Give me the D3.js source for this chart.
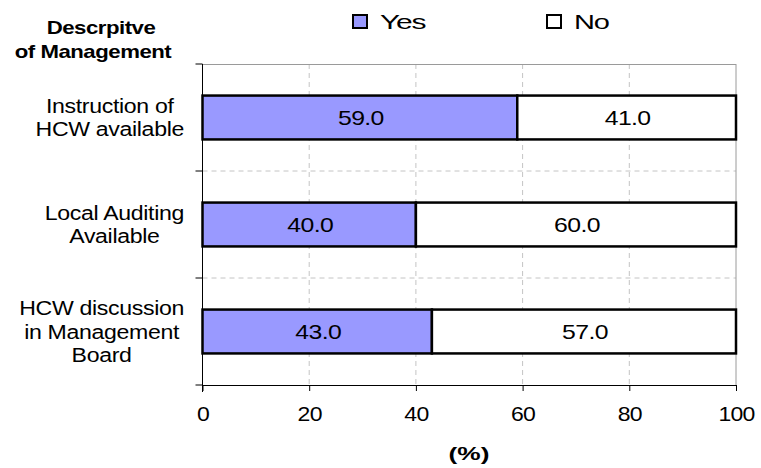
<!DOCTYPE html>
<html><head><meta charset="utf-8">
<script src="https://cdn.jsdelivr.net/npm/d3@7"></script>
<style>body{margin:0;background:#fff}svg{display:block}text{font-family:"Liberation Sans",Arial,sans-serif;fill:#000}</style>
</head><body><svg id="c" width="761" height="468"></svg>
<script>
const categories = [
  ["Instruction of","HCW available"],
  ["Local Auditing","Available"],
  ["HCW discussion","in Management","Board"]
];
const yesValues = [59.0, 40.0, 43.0];
const noValues = [41.0, 60.0, 57.0];
const seriesNames = ["Yes","No"];
const seriesColors = ["#9999FF","#FFFFFF"];
const xTicks = [0,20,40,60,80,100];
const titleLines = ["Descrpitve","of Management"];
const xTitle = "(%)";

const svg = d3.select("#c");
const L=202.5, R=736, T=64, B=385;
const x = d3.scaleLinear().domain([0,100]).range([L,R]);
const y = d3.scaleBand().domain(d3.range(categories.length)).range([T,B]).paddingInner(0).paddingOuter(0);
const barH = y.bandwidth()*0.41;

// grid
const g = svg.append("g");
g.selectAll("line.vg").data(xTicks.filter(t=>t>0&&t<100)).join("line")
  .attr("x1",d=>x(d)).attr("x2",d=>x(d)).attr("y1",T).attr("y2",B)
  .attr("stroke","#c4c4c4").attr("stroke-dasharray","5,4");
g.selectAll("line.hg").data(d3.range(1,categories.length)).join("line")
  .attr("x1",L).attr("x2",R).attr("y1",d=>y(d)).attr("y2",d=>y(d))
  .attr("stroke","#c4c4c4").attr("stroke-dasharray","5,4");
g.append("line").attr("x1",L).attr("x2",R).attr("y1",T+0.5).attr("y2",T+0.5).attr("stroke","#9a9a9a");
g.append("line").attr("x1",R).attr("x2",R).attr("y1",T).attr("y2",B).attr("stroke","#9a9a9a");

// bars
const stacks = categories.map((c,i)=>[
  {s:0,x0:0,x1:yesValues[i],v:yesValues[i],i},
  {s:1,x0:yesValues[i],x1:yesValues[i]+noValues[i],v:noValues[i],i}
]).flat();
svg.append("g").selectAll("rect").data(stacks).join("rect")
  .attr("x",d=>x(d.x0)).attr("width",d=>x(d.x1)-x(d.x0))
  .attr("y",d=>y(d.i)+(y.bandwidth()-barH)/2).attr("height",barH)
  .attr("fill",d=>seriesColors[d.s]).attr("stroke","#000").attr("stroke-width",2.5);

function place(sel, fx, fy, sx){
  sel.attr("transform",(d,i)=>`translate(${fx(d,i)},${fy(d,i)}) scale(${sx},1)`);
}
// value labels
svg.append("g").selectAll("text").data(stacks).join("text")
  .attr("text-anchor","middle").style("font-size","20px").style("letter-spacing","-0.5px")
  .text(d=>d.v.toFixed(1))
  .call(place, d=>x((d.x0+d.x1)/2)+1, d=>y(d.i)+y.bandwidth()/2+7, 1.24);

// axes
const xa = svg.append("g").attr("transform",`translate(0,${B})`)
  .call(d3.axisBottom(x).tickValues(xTicks).tickSize(6).tickFormat(d=>d));
xa.select(".domain").attr("d",`M${L},0.5H${R}`).attr("stroke","#000");
xa.selectAll(".tick line").attr("stroke","#000");
xa.selectAll(".tick text").attr("y",0).attr("dy",0)
  .style("font-size","19.5px").style("font-family","Liberation Sans, Arial").style("letter-spacing","-0.6px")
  .attr("transform","translate(0,36) scale(1.18,1)");

const ya = svg.append("g").attr("transform",`translate(${L},0)`);
ya.append("line").attr("x1",0).attr("x2",0).attr("y1",T).attr("y2",B+7).attr("stroke","#000");
ya.selectAll("line.t").data(d3.range(categories.length+1)).join("line")
  .attr("x1",-7).attr("x2",0).attr("y1",d=>T+d*y.bandwidth()).attr("y2",d=>T+d*y.bandwidth()).attr("stroke","#000");

// category labels (block right-aligned, lines centered)
const catSX = 1.10, lh = 23.5, rightEdge = 184;
categories.forEach((lines,i)=>{
  const grp = svg.append("g");
  const cy = y(i)+y.bandwidth()/2;
  const ts = grp.selectAll("text").data(lines).join("text")
    .attr("text-anchor","middle").style("font-size","21px").style("letter-spacing","-0.3px").text(d=>d);
  let maxW=0; ts.each(function(){maxW=Math.max(maxW,this.getComputedTextLength()*catSX);});
  const cx = rightEdge - maxW/2;
  ts.call(place, ()=>cx, (d,j)=>cy+(j-(lines.length-1)/2)*lh+7, catSX);
});

// title
svg.append("g").selectAll("text").data(titleLines).join("text")
  .attr("text-anchor","middle").style("font-size","18.2px").style("font-weight","bold").style("letter-spacing","-0.4px")
  .text(d=>d)
  .call(place, (d,j)=>j===0?101:93, (d,j)=>34+j*24, 1.22);

// x title
svg.append("text").attr("text-anchor","middle")
  .style("font-size","18.5px").style("font-weight","bold").text(xTitle)
  .call(place, ()=>469, ()=>459.5, 1.42);

// legend
const legX=[353,547];
const lg = svg.append("g");
seriesNames.forEach((n,i)=>{
  lg.append("rect").attr("x",legX[i]).attr("y",15).attr("width",14).attr("height",13)
    .attr("fill",seriesColors[i]).attr("stroke","#000").attr("stroke-width",2);
  lg.append("text").style("font-size","20px").style("letter-spacing","-0.8px")
    .text(n).call(place, ()=>legX[i]+27, ()=>28.5, i===0?1.5:1.45);
});
</script></body></html>
